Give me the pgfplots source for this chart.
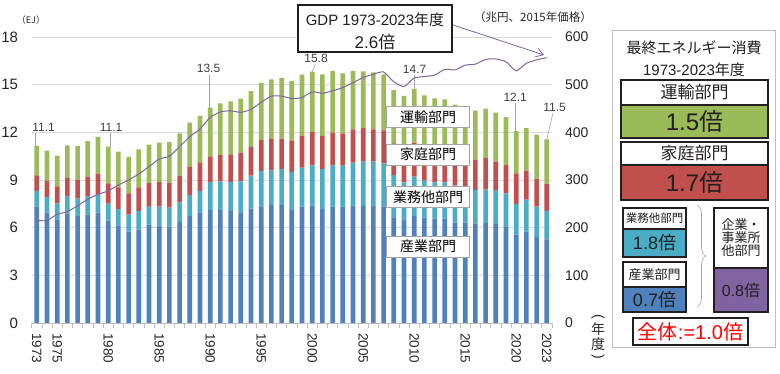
\documentclass[border=0pt]{standalone}
\usepackage{pgfplots}
\pgfplotsset{compat=1.18}
\usepackage{pgfplotstable}
\usepackage{graphicx}
\usepackage{fontspec}
\setmainfont{Liberation Sans}
\newfontfamily\jp{Noto Sans CJK JP}
\newfontfamily\lib{Liberation Sans}
\usetikzlibrary{arrows.meta,decorations.pathreplacing}
\definecolor{cInd}{HTML}{4F81BD}
\definecolor{cCom}{HTML}{4BACC6}
\definecolor{cHou}{HTML}{C0504D}
\definecolor{cTra}{HTML}{9BBB59}
\definecolor{cGdp}{HTML}{8064A2}
\definecolor{gridc}{HTML}{D9D9D9}
\definecolor{axc}{HTML}{BFBFBF}
\definecolor{tickc}{HTML}{262626}
\definecolor{lblc}{HTML}{404040}
\definecolor{boxgray}{HTML}{A6A6A6}
\definecolor{dk}{HTML}{231F20}
\newcommand\fs[1]{\fontsize{#1}{#1}\selectfont}

\pgfplotstableread{
year ind com hou tra gdp
1973 7.32 0.99 0.98 1.85 215
1974 6.94 0.99 1.03 1.89 215
1975 6.52 1.01 1.07 1.93 228
1976 6.90 1.05 1.18 2.05 233.5
1977 6.73 1.09 1.20 2.12 246
1978 6.82 1.13 1.26 2.24 259.5
1979 6.94 1.14 1.32 2.31 270
1980 6.44 1.07 1.28 2.31 277
1981 6.13 1.04 1.37 2.24 289.5
1982 5.75 1.07 1.34 2.29 300
1983 5.87 1.18 1.49 2.39 312.6
1984 6.19 1.13 1.49 2.41 328
1985 6.13 1.19 1.55 2.48 344
1986 6.06 1.20 1.57 2.56 350
1987 6.36 1.23 1.68 2.67 370
1988 6.73 1.33 1.76 2.79 391
1989 6.92 1.39 1.76 2.96 407
1990 7.11 1.76 1.62 3.06 431.5
1991 7.11 1.81 1.65 3.25 443
1992 7.05 1.82 1.74 3.34 445
1993 6.96 1.96 1.80 3.40 442
1994 7.20 2.07 1.81 3.52 448
1995 7.34 2.23 1.95 3.60 463
1996 7.43 2.18 1.97 3.75 476
1997 7.43 2.26 1.91 3.82 476
1998 7.15 2.35 1.97 3.76 471
1999 7.32 2.46 2.01 3.84 473
2000 7.38 2.54 2.10 3.80 485
2001 7.17 2.52 2.08 3.88 482
2002 7.32 2.60 2.06 3.88 487
2003 7.32 2.58 2.04 3.77 494
2004 7.38 2.71 2.10 3.67 504
2005 7.36 2.79 2.12 3.57 515
2006 7.38 2.77 2.04 3.59 522
2007 7.32 2.73 2.08 3.52 526.6
2008 6.65 2.66 2.00 3.35 506
2009 6.52 2.33 2.10 3.34 496
2010 6.73 2.48 2.14 3.38 514
2011 6.63 2.33 2.04 3.33 517
2012 6.57 2.28 2.10 3.19 520
2013 6.57 2.28 2.00 3.23 532
2014 6.31 2.34 1.90 3.20 531
2015 6.31 2.19 1.90 3.15 541
2016 6.27 2.10 1.89 3.10 543
2017 6.29 2.12 1.97 3.11 553
2018 6.23 2.14 1.78 3.09 554
2019 6.08 2.08 1.78 3.02 548
2020 5.56 1.93 1.93 2.66 529
2021 5.75 2.01 1.83 2.68 545
2022 5.41 1.91 1.76 2.77 552
2023 5.27 1.78 1.72 2.79 556.6
}\datatable

\begin{document}
\begin{tikzpicture}[
  lbl/.style={font=\fs{12}, text=lblc, inner sep=0pt},
  lline/.style={draw=boxgray, line width=0.6pt},
  secbox/.style={draw=boxgray, fill=white, line width=0.6pt, minimum width=83pt, minimum height=21pt, inner sep=0pt, font=\jp\fs{14}},
  pbox/.style={draw=dk, line width=1.4pt},
]
\path[use as bounding box] (0,0) rectangle (780pt,374pt);

\begin{axis}[
  at={(31.7pt,51pt)}, anchor=south west,
  scale only axis, width=520.2pt, height=286pt,
  xmin=1972.5, xmax=2023.5, ymin=0, ymax=18,
  ybar stacked, bar width=0.46,
  axis x line*=bottom, axis y line*=left,
  x axis line style={draw=axc, line width=0.8pt, -},
  y axis line style={draw=none},
  ymajorgrids, grid style={draw=gridc, line width=0.6pt},
  ytick={0,3,...,18},
  xtick={1973,1975,1980,1985,1990,1995,2000,2005,2010,2015,2020,2023},
  xticklabels={1973,1975,1980,1985,1990,1995,2000,2005,2010,2015,2020,2023},
  minor xtick={1972.5,1973.5,...,2023.5},
  tick align=outside, major tick length=0pt, minor tick length=5pt,
  minor tick style={draw=axc, line width=0.6pt},
  xticklabel style={rotate=-90, anchor=west, inner sep=0pt, font=\fs{13.5}, text=tickc},
  xticklabel shift=10pt,
  yticklabel style={anchor=east, inner sep=0pt, font=\fs{15}, text=tickc},
  yticklabel shift=13.5pt,
  /pgf/number format/assume math mode=true,
  clip=false,
]
\addplot[fill=cInd, draw=none] table[x=year,y=ind]{\datatable};
\addplot[fill=cCom, draw=none] table[x=year,y=com]{\datatable};
\addplot[fill=cHou, draw=none] table[x=year,y=hou]{\datatable};
\addplot[fill=cTra, draw=none] table[x=year,y=tra]{\datatable};

\draw[lline] (axis cs:1972.85,11.14) -- (axis cs:1972.85,11.95);
\node[lbl] at (axis cs:1973.67,12.33) {11.1};
\draw[lline] (axis cs:1980.19,11.10) -- (axis cs:1980.19,11.95);
\node[lbl] at (axis cs:1980.28,12.33) {11.1};
\draw[lline] (axis cs:1989.9,13.55) -- (axis cs:1989.9,15.6);
\node[lbl] at (axis cs:1989.84,16.05) {13.5};
\draw[lline] (axis cs:2000,15.82) -- (axis cs:2000.3,16.3);
\node[lbl] at (axis cs:2000.38,16.68) {15.8};
\draw[lline] (axis cs:2010,14.73) -- (axis cs:2010,15.6);
\node[lbl] at (axis cs:2010.04,15.98) {14.7};
\draw[lline] (axis cs:2019.9,12.08) -- (axis cs:2019.9,13.85);
\node[lbl] at (axis cs:2019.9,14.19) {12.1};
\draw[lline] (axis cs:2023,11.56) -- (axis cs:2023.6,13.2);
\node[lbl] at (axis cs:2023.76,13.56) {11.5};
\end{axis}

\begin{axis}[
  at={(31.7pt,51pt)}, anchor=south west,
  scale only axis, width=520.2pt, height=286pt,
  xmin=1972.5, xmax=2023.5, ymin=0, ymax=600,
  axis x line=none, axis y line*=right,
  y axis line style={draw=none},
  ytick={0,100,...,600}, major tick length=0pt,
  yticklabel style={anchor=west, inner sep=0pt, font=\fs{14}, text=tickc},
  yticklabel shift=13pt,
  /pgf/number format/assume math mode=true,
  clip=false,
]
\addplot[color=cGdp, line width=1pt, smooth, tension=0.35, mark=none] table[x=year,y=gdp]{\datatable};
\end{axis}

% sector labels in chart
\node[secbox] at (428pt,257pt) {運輸部門};
\node[secbox] at (428pt,219.5pt) {家庭部門};
\node[secbox] at (428pt,177pt) {業務他部門};
\node[secbox] at (428pt,127.5pt) {産業部門};

% axis unit labels
\node[font=\jp\fs{9}, text=tickc] at (31pt,354pt) {（EJ）};
\node[font=\jp\fs{11.5}, text=tickc] at (533pt,356.5pt) {（兆円、2015年価格）};
\node[font=\jp\fs{14}, text=tickc, inner sep=0pt] at (598pt,57pt) {\rotatebox[origin=c]{-90}{\lib (}};
\node[font=\jp\fs{14}, text=tickc, inner sep=0pt] at (598pt,44.5pt) {年};
\node[font=\jp\fs{14}, text=tickc, inner sep=0pt] at (598pt,29.5pt) {度};
\node[font=\jp\fs{14}, text=tickc, inner sep=0pt] at (598pt,17pt) {\rotatebox[origin=c]{-90}{\lib )}};

% GDP box and arrow
\draw[dk, line width=2pt, fill=white] (298pt,322pt) rectangle (452pt,369pt);
\node[font=\fs{15}, text=dk] at (375pt,354pt) {GDP 1973-2023{\jp 年度}};
\node[font=\fs{17}, text=dk] at (375pt,332pt) {2.6{\jp 倍}};
\draw[cGdp, line width=0.8pt, -{Straight Barb[length=7pt,width=9pt]}] (453pt,349pt) -- (544pt,319pt);

% right panel
\draw[draw=axc, line width=0.8pt] (612pt,27pt) rectangle (775pt,344pt);
\node[font=\jp\fs{15}, text=dk] at (694pt,326pt) {最終エネルギー消費};
\node[font=\fs{15}, text=dk] at (694pt,304pt) {1973-2023{\jp 年度}};

\draw[pbox, fill=white] (621pt,269pt) rectangle (768pt,294pt);
\node[font=\jp\fs{17}, text=dk] at (694.5pt,281.5pt) {運輸部門};
\draw[pbox, fill=cTra] (621pt,236pt) rectangle (768pt,269pt);
\node[font=\fs{24}, text=dk] at (694.5pt,252.5pt) {1.5{\jp 倍}};

\draw[pbox, fill=white] (621pt,209pt) rectangle (768pt,232pt);
\node[font=\jp\fs{17}, text=dk] at (694.5pt,220.5pt) {家庭部門};
\draw[pbox, fill=cHou] (621pt,174pt) rectangle (768pt,209pt);
\node[font=\fs{24}, text=dk] at (694.5pt,191.5pt) {1.7{\jp 倍}};

\draw[pbox, fill=white] (623pt,145pt) rectangle (686pt,166pt);
\node[font=\jp\fs{11.5}, text=dk] at (654.5pt,155.5pt) {業務他部門};
\draw[pbox, fill=cCom] (623pt,117pt) rectangle (686pt,145pt);
\node[font=\fs{18}, text=dk] at (654.5pt,131pt) {1.8{\jp 倍}};

\draw[pbox, fill=white] (623pt,87pt) rectangle (686pt,112pt);
\node[font=\jp\fs{13}, text=dk] at (654.5pt,99.5pt) {産業部門};
\draw[pbox, fill=cInd] (623pt,62pt) rectangle (686pt,87pt);
\node[font=\fs{18}, text=dk] at (654.5pt,74.5pt) {0.7{\jp 倍}};

\draw[draw=boxgray, line width=0.6pt, decorate, decoration={brace, amplitude=9pt}] (697pt,169pt) -- (697pt,67pt);

\draw[pbox, fill=white] (714pt,106pt) rectangle (768pt,166pt);
\node[font=\jp\fs{13}, text=dk, align=center, inner sep=0pt] at (741pt,136pt) {企業・\\事業所\\他部門};
\draw[pbox, fill=cGdp] (714pt,62pt) rectangle (768pt,106pt);
\node[font=\fs{16}, text=dk] at (741pt,84pt) {0.8{\jp 倍}};

\draw[pbox, fill=white] (633pt,29pt) rectangle (748pt,56pt);
\node[font=\fs{20}, text=red] at (690.5pt,42.5pt) {{\jp 全体}:=1.0{\jp 倍}};
\end{tikzpicture}
\end{document}
